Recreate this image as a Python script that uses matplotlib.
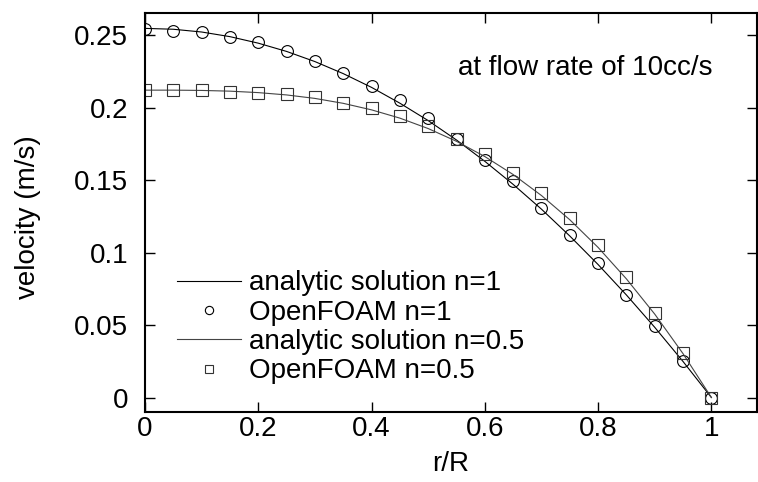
import matplotlib.pyplot as plt
from matplotlib.ticker import FormatStrFormatter

plt.rcParams['font.family'] = ['Liberation Sans', 'DejaVu Sans']

# radial position r/R
r = [0.0, 0.05, 0.1, 0.15, 0.2, 0.25, 0.3, 0.35, 0.4, 0.45, 0.5,
     0.55, 0.6, 0.65, 0.7, 0.75, 0.8, 0.85, 0.9, 0.95, 1.0]

# analytic solutions (m/s)
analytic_n1 = [0.2546, 0.2540, 0.2521, 0.2489, 0.2444, 0.2387, 0.2317, 0.2234, 0.2139, 0.2030, 0.1910,
               0.1776, 0.1629, 0.1470, 0.1299, 0.1114, 0.0917, 0.0707, 0.0484, 0.0248, 0.0]
analytic_n05 = [0.2120, 0.2120, 0.2118, 0.2113, 0.2103, 0.2087, 0.2063, 0.2029, 0.1984, 0.1927, 0.1855,
                0.1767, 0.1662, 0.1538, 0.1393, 0.1226, 0.1035, 0.0818, 0.0575, 0.0302, 0.0]

# OpenFOAM results (m/s)
foam_n1 = [0.254, 0.253, 0.252, 0.249, 0.245, 0.239, 0.232, 0.224, 0.215, 0.205, 0.193,
           0.178, 0.164, 0.149, 0.131, 0.112, 0.093, 0.071, 0.049, 0.025, 0.0]
foam_n05 = [0.212, 0.212, 0.212, 0.211, 0.210, 0.209, 0.207, 0.203, 0.200, 0.194, 0.187,
            0.178, 0.168, 0.155, 0.141, 0.124, 0.105, 0.083, 0.058, 0.031, 0.0]

fs = 20

fig = plt.figure(figsize=(7.58, 4.82), dpi=100)
ax = fig.add_axes([0.1913, 0.1452, 0.807, 0.8272])

ax.plot(r, analytic_n1, color='black', lw=0.8, label='analytic solution n=1')
ax.plot(r, foam_n1, 'o', mfc='none', mec='black', mew=0.8, ms=8.5, label='OpenFOAM n=1')
ax.plot(r, analytic_n05, color='#444444', lw=0.8, label='analytic solution n=0.5')
ax.plot(r, foam_n05, 's', mfc='none', mec='#333333', mew=0.8, ms=8, label='OpenFOAM n=0.5')

ax.set_xlim(0, 1.08)
ax.set_ylim(-0.01, 0.265)
ax.set_xticks([0, 0.2, 0.4, 0.6, 0.8, 1.0])
ax.set_yticks([0, 0.05, 0.1, 0.15, 0.2, 0.25])
ax.xaxis.set_major_formatter(FormatStrFormatter('%g'))
ax.yaxis.set_major_formatter(FormatStrFormatter('%g'))

ax.tick_params(direction='in', length=7, width=1, top=True, right=True, labelsize=fs)
ax.tick_params(axis='x', pad=3)
ax.tick_params(axis='y', pad=12)
for s in ax.spines.values():
    s.set_linewidth(1.5)

ax.set_xlabel('r/R', fontsize=fs, labelpad=6)
ax.set_ylabel('velocity (m/s)', fontsize=fs)
ax.yaxis.set_label_coords(-0.17, 0.49)

ax.text(0.778, 0.2274, 'at flow rate of 10cc/s', fontsize=fs, ha='center', va='center')

ax.legend(loc='center left', bbox_to_anchor=(0.052, 0.212), frameon=False, fontsize=fs,
          borderpad=0, borderaxespad=0, handlelength=2.3, handletextpad=0.3,
          labelspacing=0.12, markerscale=0.7)

plt.savefig('out.png', dpi=100)
